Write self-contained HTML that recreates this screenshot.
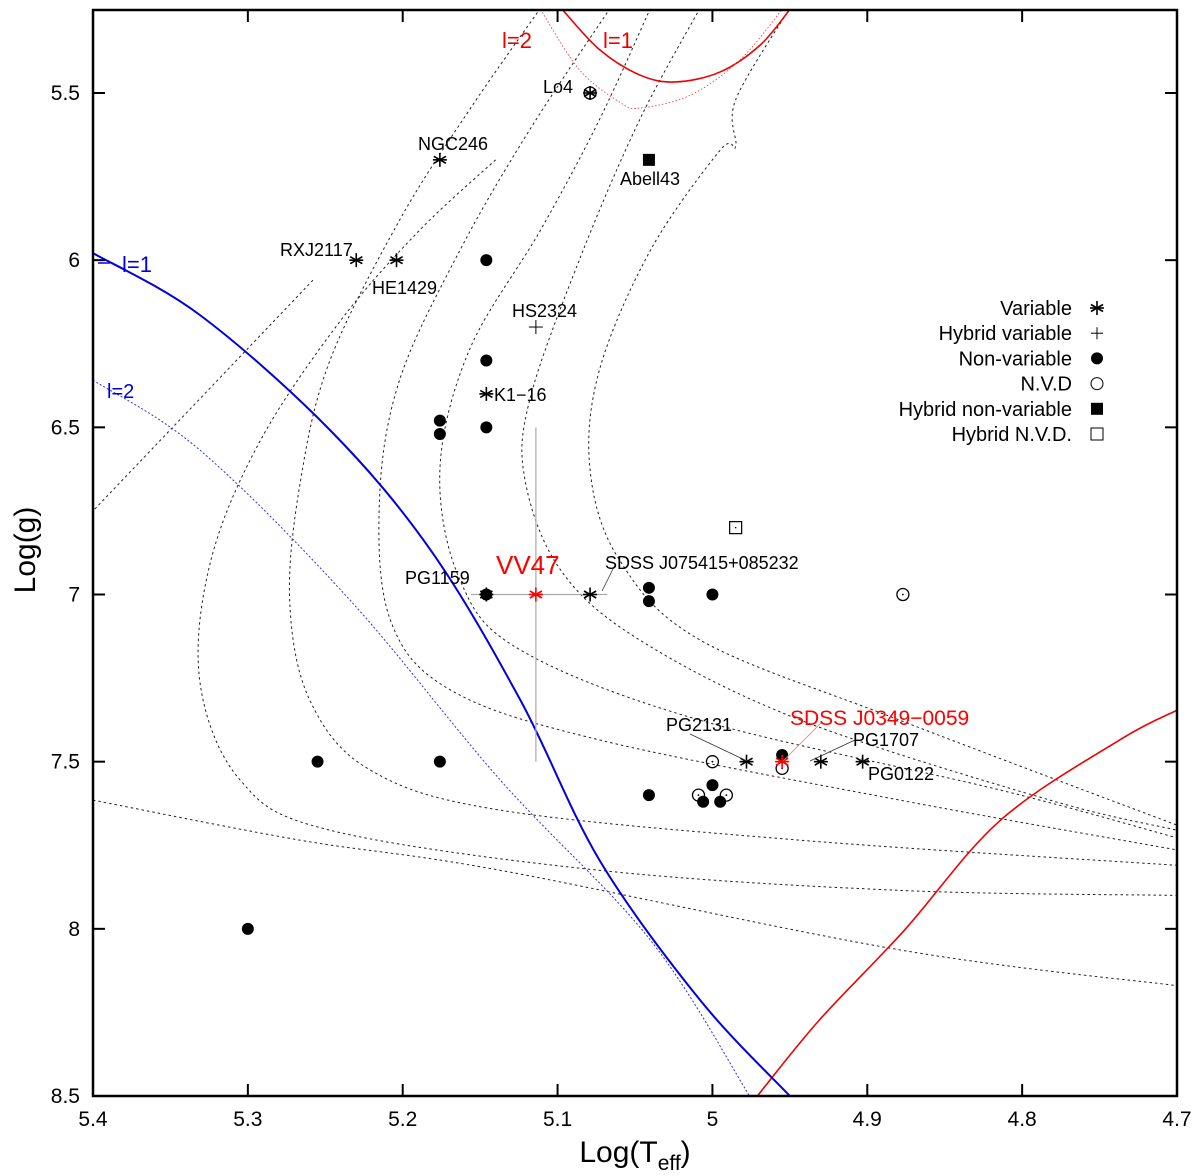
<!DOCTYPE html>
<html><head><meta charset="utf-8"><style>
body{margin:0;background:#fff}
svg{display:block;font-family:"Liberation Sans",sans-serif}
</style></head><body>
<svg id="c" width="1200" height="1176" viewBox="0 0 1200 1176"></svg>
<script>
const xTicks=[5.4,5.3,5.2,5.1,5,4.9,4.8,4.7];
const xTickLabels=["5.4","5.3","5.2","5.1","5","4.9","4.8","4.7"];
const yTicks=[5.5,6,6.5,7,7.5,8,8.5];
const yTickLabels=["5.5","6","6.5","7","7.5","8","8.5"];
const tracks=[
[[5.258,6.06],[5.4,6.75]],
[[5.14,5.70],[5.189,5.91],[5.24,6.18],[5.292,6.54],[5.324,6.90],[5.331,7.26],[5.305,7.555],[5.247,7.705],[5.073,7.825],[4.879,7.885],[4.70,7.90]],
[[5.111,5.246],[5.157,5.551],[5.202,5.88],[5.247,6.30],[5.266,6.66],[5.273,7.017],[5.26,7.316],[5.221,7.525],[5.137,7.645],[4.943,7.735],[4.70,7.81]],
[[5.066,5.246],[5.118,5.61],[5.163,5.97],[5.202,6.358],[5.215,6.717],[5.208,7.076],[5.169,7.286],[5.073,7.435],[4.879,7.615],[4.70,7.764]],
[[5.04,5.246],[5.073,5.58],[5.111,5.91],[5.157,6.269],[5.176,6.628],[5.163,6.957],[5.124,7.166],[5.008,7.376],[4.814,7.585],[4.70,7.728]],
[[5.008,5.246],[5.047,5.58],[5.086,6.0],[5.118,6.418],[5.121,6.658],[5.098,6.927],[5.047,7.136],[4.943,7.376],[4.782,7.615],[4.70,7.705]],
[[4.95,5.246],[4.985,5.52],[4.985,5.66],[4.995,5.671],[5.04,5.97],[5.073,6.329],[5.079,6.628],[5.06,6.897],[5.008,7.136],[4.879,7.376],[4.70,7.69]],
[[5.4,7.615],[5.266,7.735],[5.137,7.825],[4.879,8.063],[4.70,8.17]]
];
const redL1Top=[[5.097,5.25],[5.073,5.37],[5.047,5.446],[5.024,5.467],[4.995,5.437],[4.969,5.356],[4.95,5.25]];
const redL2Top=[[5.111,5.25],[5.086,5.43],[5.06,5.527],[5.047,5.545],[5.014,5.506],[4.982,5.40],[4.955,5.25]];
const redBottom=[[4.971,8.5],[4.931,8.273],[4.876,8.004],[4.814,7.675],[4.737,7.435],[4.70,7.346]];
const blueL1=[[5.4,5.979],[5.331,6.164],[5.247,6.508],[5.182,6.867],[5.124,7.316],[5.073,7.794],[5.008,8.213],[4.95,8.5]];
const blueL2=[[5.4,6.359],[5.331,6.568],[5.234,7.017],[5.137,7.555],[5.04,8.034],[4.976,8.5]];
const variableT=[5.176,5.23,5.204,5.146,5.146,5.079,4.978,4.93,4.903,5.079];
const variableG=[5.7,6.0,6.0,6.4,7.0,7.0,7.5,7.5,7.5,5.5];
const hybridVarT=[5.114];const hybridVarG=[6.2];
const nonVarT=[5.146,5.146,5.176,5.176,5.146,5.146,5.041,5.041,5.0,5.255,5.176,5.041,5.0,5.006,4.995,4.955,5.3];
const nonVarG=[6.0,6.3,6.48,6.52,6.5,7.0,6.98,7.02,7.0,7.5,7.5,7.6,7.57,7.62,7.62,7.48,8.0];
const nvdT=[4.877,5.0,4.955,5.009,4.991,5.079];
const nvdG=[7.0,7.5,7.52,7.6,7.6,5.5];
const hybNonVarT=[5.041];const hybNonVarG=[5.7];
const hybNvdT=[4.985];const hybNvdG=[6.8];
const redStarT=[5.114,4.955];const redStarG=[7.0,7.5];

const NS="http://www.w3.org/2000/svg";
const svg=document.getElementById('c');
const X0=93,X1=1177,Y0=10,Y1=1096;
const sx=v=>X0+(5.4-v)/0.7*(X1-X0);
const sy=v=>93+(v-5.5)/3*(1096-93);
function el(t,a,p){const e=document.createElementNS(NS,t);for(const k in a)e.setAttribute(k,a[k]);(p||svg).appendChild(e);return e;}
const defs=el('defs',{});const cp=el('clipPath',{id:'clip'},defs);el('rect',{x:X0,y:Y0,width:X1-X0,height:Y1-Y0},cp);
const plot=el('g',{'clip-path':'url(#clip)'});
function smooth(pts){
 const P=pts.map(p=>[sx(p[0]),sy(p[1])]);
 let d='M'+P[0][0]+','+P[0][1];
 for(let i=0;i<P.length-1;i++){
  const p0=P[Math.max(i-1,0)],p1=P[i],p2=P[i+1],p3=P[Math.min(i+2,P.length-1)];
  const c1=[p1[0]+(p2[0]-p0[0])/6,p1[1]+(p2[1]-p0[1])/6];
  const c2=[p2[0]-(p3[0]-p1[0])/6,p2[1]-(p3[1]-p1[1])/6];
  d+=' C'+c1[0]+','+c1[1]+' '+c2[0]+','+c2[1]+' '+p2[0]+','+p2[1];
 }
 return d;
}
function line(pts,stroke,dash,w,name){
 const e=el('path',{d:smooth(pts),fill:'none',stroke:stroke,'stroke-width':w,'stroke-dasharray':dash||'none'},plot);
 
 
}
tracks.forEach((t,i)=>line(t,'#222','2.5,3',1,'evolutionary-track-'+(i+1)));
line(redL1Top,'#e00','',1.6,'red-l1-boundary-top');
line(redL2Top,'#e44','1.5,2',0.9,'red-l2-boundary-top');
line(redBottom,'#e00','',1.6,'red-boundary-bottom');
line(blueL1,'#0000e0','',2,'blue-l1-edge');
line(blueL2,'#3030e0','2,2',1,'blue-l2-edge');
const eb=el('g',{stroke:'#aaa','stroke-width':1.2});


el('line',{x1:sx(5.156),x2:sx(5.068),y1:sy(7),y2:sy(7)},eb);
el('line',{x1:sx(5.114),x2:sx(5.114),y1:sy(6.5),y2:sy(7.5)},eb);
const fr=el('rect',{x:X0,y:Y0,width:X1-X0,height:Y1-Y0,fill:'none',stroke:'#000','stroke-width':2.5});


xTicks.forEach((v,i)=>{const x=sx(v);
 el('line',{x1:x,x2:x,y1:Y1,y2:Y1-12,stroke:'#000','stroke-width':2});
 el('line',{x1:x,x2:x,y1:Y0,y2:Y0+12,stroke:'#000','stroke-width':2});
 const t=el('text',{x:x,y:1126,'text-anchor':'middle','font-size':21});t.textContent=xTickLabels[i];
 
 });
yTicks.forEach((v,i)=>{const y=sy(v);
 el('line',{x1:X0,x2:X0+12,y1:y,y2:y,stroke:'#000','stroke-width':2});
 el('line',{x1:X1,x2:X1-12,y1:y,y2:y,stroke:'#000','stroke-width':2});
 const t=el('text',{x:80,y:y+7,'text-anchor':'end','font-size':21});t.textContent=yTickLabels[i];
 
 });
function star(x,y,c,g){const r=7;for(const a of [0,60,120]){const rad=a*Math.PI/180;el('line',{x1:x-r*Math.sin(rad),y1:y-r*Math.cos(rad),x2:x+r*Math.sin(rad),y2:y+r*Math.cos(rad),stroke:c,'stroke-width':1.6},g);}el('line',{x1:x-7,x2:x+7,y1:y,y2:y,stroke:c,'stroke-width':1.6},g);}
function group(name){const g=el('g',{});return g;}
let g=group('non-variable-points');
nonVarT.forEach((t,i)=>el('circle',{cx:sx(t),cy:sy(nonVarG[i]),r:6,fill:'#000'},g));
g=group('nvd-points');
nvdT.forEach((t,i)=>{el('circle',{cx:sx(t),cy:sy(nvdG[i]),r:6,fill:'none',stroke:'#000','stroke-width':1.3},g);el('circle',{cx:sx(t),cy:sy(nvdG[i]),r:0.9,fill:'#000'},g);});
g=group('variable-points');
variableT.forEach((t,i)=>star(sx(t),sy(variableG[i]),'#000',g));
g=group('hybrid-variable-points');
hybridVarT.forEach((t,i)=>{const x=sx(t),y=sy(hybridVarG[i]);el('line',{x1:x-7,x2:x+7,y1:y,y2:y,stroke:'#000'},g);el('line',{x1:x,x2:x,y1:y-7,y2:y+7,stroke:'#000'},g);});
g=group('hybrid-non-variable-points');
hybNonVarT.forEach((t,i)=>el('rect',{x:sx(t)-6,y:sy(hybNonVarG[i])-6,width:12,height:12,fill:'#000'},g));
g=group('hybrid-nvd-points');
hybNvdT.forEach((t,i)=>{el('rect',{x:sx(t)-6,y:sy(hybNvdG[i])-6,width:12,height:12,fill:'none',stroke:'#000','stroke-width':1.2},g);el('circle',{cx:sx(t),cy:sy(hybNvdG[i]),r:0.8},g);});
g=group('highlighted-stars');
redStarT.forEach((t,i)=>star(sx(t),sy(redStarG[i]),'#f00',g));
const ll=group('leader-lines');
[[602,591,615,565,'#333'],[810,761,855,740,'#333'],[747,761,690,734,'#333'],[783,761,822,722,'#f66']].forEach(a=>el('line',{x1:a[0],y1:a[1],x2:a[2],y2:a[3],stroke:a[4],'stroke-width':0.8},ll));
function txt(x,y,s,size,fill,name,anchor){const t=el('text',{x:x,y:y,'font-size':size,fill:fill,'text-anchor':anchor||'start'});t.textContent=s;return t;}
txt(543,93,'Lo4',18,'#000','label-lo4');
txt(418,150,'NGC246',18,'#000','label-ngc246');
txt(620,185,'Abell43',18,'#000','label-abell43');
txt(280,256,'RXJ2117',18,'#000','label-rxj2117');
txt(372,294,'HE1429',18,'#000','label-he1429');
txt(512,317,'HS2324',18,'#000','label-hs2324');
txt(494,401,'K1\u221216',18,'#000','label-k1-16');
txt(405,584,'PG1159',18,'#000','label-pg1159');
txt(496,574,'VV47',26,'#f00','label-vv47');
txt(605,569,'SDSS J075415+085232',18,'#000','label-sdss-j0754');
txt(666,731,'PG2131',18,'#000','label-pg2131');
txt(790,725,'SDSS J0349\u22120059',21,'#f00','label-sdss-j0349');
txt(853,746,'PG1707',18,'#000','label-pg1707');
txt(868,780,'PG0122',18,'#000','label-pg0122');
txt(502,48,'l=2',22,'#e00','label-l2-red');
txt(603,48,'l=1',22,'#e00','label-l1-red');
txt(122,272,'l=1',22,'#00d','label-l1-blue');
txt(107,398,'l=2',20,'#00d','label-l2-blue');
el('line',{x1:98,x2:110,y1:263,y2:263,stroke:'#00d','stroke-width':1.5});
const lg=group('legend');
const legNames=['Variable','Hybrid variable','Non-variable','N.V.D','Hybrid non-variable','Hybrid N.V.D.'];
legNames.forEach((n,i)=>{const y=308+i*25.2;const t=el('text',{x:1072,y:y+7,'text-anchor':'end','font-size':20},lg);t.textContent=n;
 
 
 const x=1097;
 if(i==0)star(x,y,'#000',lg);
 if(i==1){el('line',{x1:x-6,x2:x+6,y1:y,y2:y,stroke:'#000'},lg);el('line',{x1:x,x2:x,y1:y-6,y2:y+6,stroke:'#000'},lg);}
 if(i==2)el('circle',{cx:x,cy:y,r:6},lg);
 if(i==3)el('circle',{cx:x,cy:y,r:6,fill:'none',stroke:'#000'},lg);
 if(i==4)el('rect',{x:x-6,y:y-6,width:12,height:12},lg);
 if(i==5)el('rect',{x:x-6,y:y-6,width:12,height:12,fill:'none',stroke:'#000'},lg);
});
const yt=el('text',{x:0,y:0,'font-size':30,'text-anchor':'middle',transform:'translate(35,550) rotate(-90)'});yt.textContent='Log(g)';


const xt=el('text',{x:635,y:1162,'font-size':30,'text-anchor':'middle'});


xt.innerHTML='Log(T<tspan font-size="21" dy="8">eff</tspan><tspan dy="-8">)</tspan>';
</script>
</body></html>
